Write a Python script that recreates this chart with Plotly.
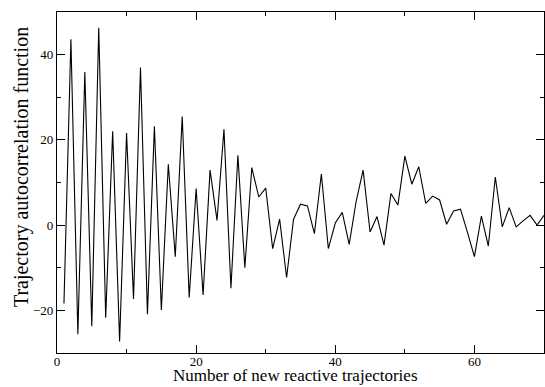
import plotly.graph_objects as go

# Trajectory autocorrelation vs. number of new reactive trajectories
n_traj = list(range(1, 71))
autocorr = [
    -18.4, 43.6, -25.6, 35.9, -23.7, 46.3, -21.7, 22.0, -27.3, 21.6,
    -17.3, 37.0, -20.9, 23.2, -19.9, 14.3, -7.4, 25.5, -17.0, 8.6,
    -16.4, 12.9, 1.1, 22.5, -14.8, 16.4, -10.0, 13.5, 6.6, 8.7,
    -5.5, 1.4, -12.3, 1.4, 4.9, 4.5, -2.0, 12.0, -5.5, 0.5,
    3.0, -4.5, 5.6, 12.9, -1.6, 2.0, -4.7, 7.4, 4.7, 16.2,
    9.6, 13.7, 5.1, 6.8, 5.9, 0.2, 3.3, 3.75, -1.7, -7.4,
    2.1, -4.9, 11.3, -0.4, 4.1, -0.4, 1.0, 2.3, 0.0, 2.3,
]

x_ticks = [0, 20, 40, 60]
y_ticks = [-20, 0, 20, 40]

fig = go.Figure(
    go.Scatter(
        x=n_traj, y=autocorr, mode="lines",
        line=dict(color="black", width=1.1),
        showlegend=False,
    )
)

font = "Liberation Serif, Times New Roman, serif"
axis_common = dict(
    showgrid=False, zeroline=False, showline=True, linecolor="black",
    linewidth=1.2, mirror="allticks", ticks="inside", ticklen=8,
    tickwidth=1.2, tickcolor="black",
    tickfont=dict(family=font, size=13, color="black"),
    minor=dict(ticks="inside", ticklen=4, tickwidth=1.2, tickcolor="black", dtick=10),
)

fig.update_xaxes(range=[0, 70], tickvals=x_ticks, ticklabelstandoff=-4, **axis_common)
fig.update_yaxes(range=[-30, 50], tickvals=y_ticks, **axis_common)

# Axis titles placed as annotations for finer control of position
fig.add_annotation(
    text="Number of new reactive trajectories",
    xref="paper", yref="paper", x=0.49, y=-0.0997,
    xanchor="center", yanchor="bottom", showarrow=False,
    font=dict(family=font, size=17, color="black"),
)
fig.add_annotation(
    text="Trajectory autocorrelation function",
    xref="paper", yref="paper", x=-0.074, y=0.545, textangle=-90,
    xanchor="center", yanchor="middle", showarrow=False,
    font=dict(family=font, size=20, color="black"),
)

fig.update_layout(
    width=545, height=387,
    margin=dict(l=57, r=1, t=12, b=34),
    paper_bgcolor="white", plot_bgcolor="white",
)

fig.write_html("out.html")
